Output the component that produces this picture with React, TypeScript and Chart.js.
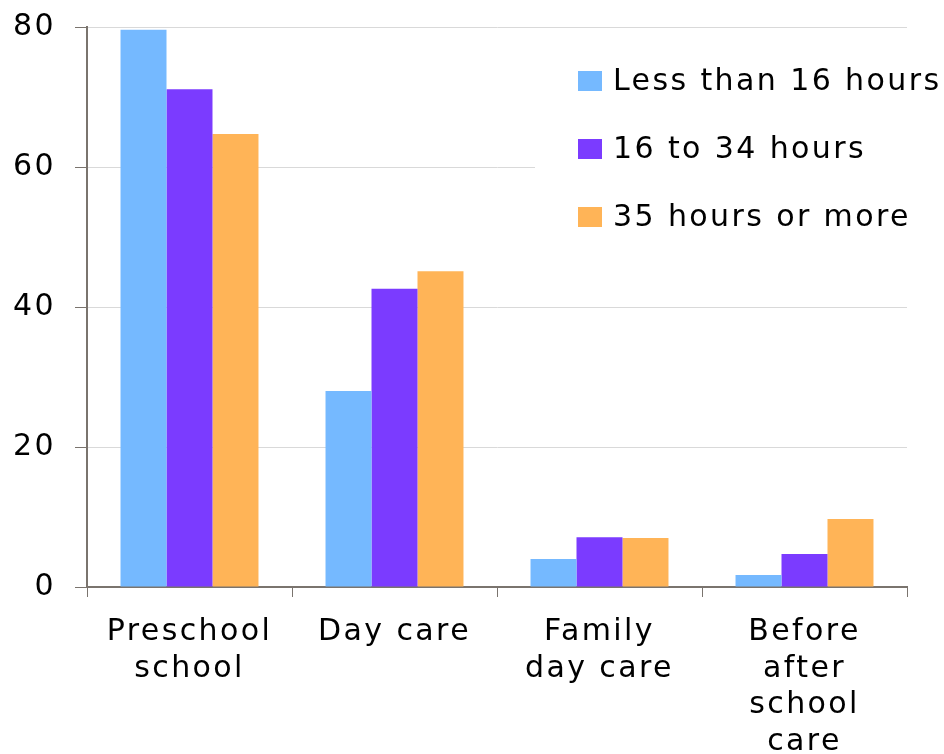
import React, { useEffect, useRef } from "react";
import { Chart, registerables } from "chart.js";

Chart.register(...registerables);

const categories: string[][] = [
  ["Preschool", "school"],
  ["Day care"],
  ["Family", "day care"],
  ["Before", "after", "school", "care"],
];
const seriesNames = ["Less than 16 hours", "16 to 34 hours", "35 hours or more"];
const lessThan16 = [79.6, 28.0, 4.0, 1.7];
const from16to34 = [71.1, 42.6, 7.1, 4.7];
const over35 = [64.7, 45.1, 7.0, 9.7];
const colors = ["#75B9FF", "#7B3BFF", "#FFB457"];
const yTicks = [0, 20, 40, 60, 80];

const FONT = "'DejaVu Sans', Verdana, sans-serif";
const AXIS = "#7a746e";
const FS = 30;
const LS = "2.4px";

const spacingPlugin = {
  id: "spacing",
  beforeDraw(chart: any) {
    (chart.ctx as any).letterSpacing = LS;
  },
};

const legendPlugin = {
  id: "insideLegend",
  afterDatasetsDraw(chart: any) {
    const ctx = chart.ctx;
    ctx.save();
    ctx.fillStyle = "#ffffff";
    ctx.fillRect(535, 45, chart.chartArea.right - 535 + 1, 200);
    ctx.font = `${FS}px ${FONT}`;
    (ctx as any).letterSpacing = LS;
    ctx.textBaseline = "middle";
    ctx.textAlign = "left";
    chart.data.datasets.forEach((ds: any, i: number) => {
      const cy = 81 + i * 68;
      ctx.fillStyle = ds.backgroundColor;
      ctx.fillRect(578, cy - 10, 24, 20);
      ctx.fillStyle = "#000000";
      ctx.fillText(ds.label, 613, cy + 1);
    });
    ctx.restore();
  },
};

export default function App() {
  const ref = useRef<HTMLCanvasElement | null>(null);
  useEffect(() => {
    document.body.style.margin = "0";
    const data = [lessThan16, from16to34, over35];
    const chart = new Chart(ref.current as HTMLCanvasElement, {
      type: "bar",
      data: {
        labels: categories as any,
        datasets: seriesNames.map((name, i) => ({
          label: name,
          data: data[i],
          backgroundColor: colors[i],
          borderWidth: 0,
          categoryPercentage: 0.673,
          barPercentage: 1.0,
        })),
      },
      options: {
        animation: false,
        responsive: false,
        maintainAspectRatio: false,
        layout: { padding: { left: 0, right: 37, top: 27, bottom: 0 } },
        plugins: {
          legend: { display: false },
          tooltip: { enabled: false },
        },
        scales: {
          x: {
            offset: true,
            grid: {
              offset: true,
              drawOnChartArea: false,
              drawTicks: true,
              tickLength: 10,
              tickColor: AXIS,
              color: AXIS,
            },
            border: { display: true, color: AXIS, width: 2 },
            ticks: {
              color: "#000000",
              font: { family: FONT, size: FS, lineHeight: 1.22 },
              padding: 17,
              maxRotation: 0,
              autoSkip: false,
            },
            afterFit: (scale: any) => {
              scale.height = 167;
              scale.paddingLeft = 0;
              scale.paddingRight = 0;
            },
          },
          y: {
            min: 0,
            max: 80,
            afterBuildTicks: (scale: any) => {
              scale.ticks = yTicks.map((v) => ({ value: v }));
            },
            grid: {
              color: "#d9d9d9",
              lineWidth: 1,
              drawTicks: true,
              tickLength: 12,
              tickColor: AXIS,
            },
            border: { display: true, color: AXIS, width: 2 },
            ticks: {
              color: "#000000",
              font: { family: FONT, size: FS },
              padding: 19,
            },
            afterFit: (scale: any) => {
              scale.width = 87;
              scale.paddingTop = 0;
              scale.paddingBottom = 0;
            },
          },
        },
      },
      plugins: [spacingPlugin, legendPlugin],
    });
    return () => chart.destroy();
  }, []);
  return (
    <div style={{ position: "absolute", left: 0, top: 0, width: 944, height: 754 }}>
      <canvas ref={ref} width={944} height={754} style={{ display: "block" }} />
    </div>
  );
}
